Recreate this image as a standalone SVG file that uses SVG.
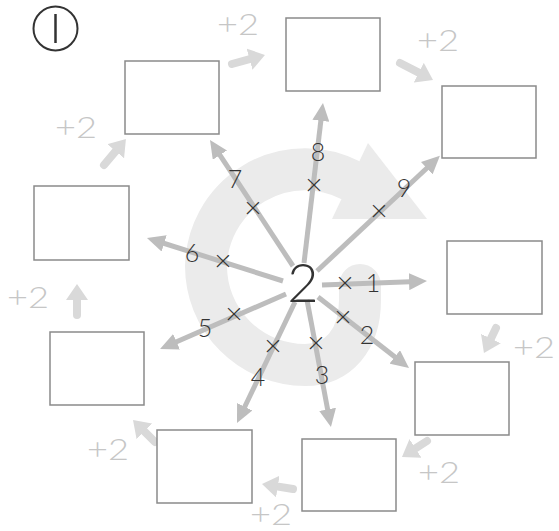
<svg xmlns="http://www.w3.org/2000/svg" width="559" height="531" viewBox="0 0 559 531">
<style>
.box{fill:#fff;stroke:#8a8a8a;stroke-width:1.5}
.spoke{stroke:#bdbdbd;stroke-width:5;fill:none;marker-end:url(#sh)}
.plus{stroke:#d9d9d9;stroke-width:8;stroke-linecap:round;fill:none;marker-end:url(#ph)}
.pl{font-family:Lato,"Liberation Sans",sans-serif;font-weight:300;font-size:30px;fill:#c6c6c6}
.lb{font-family:Lato,"Liberation Sans",sans-serif;font-weight:300;font-size:25px;fill:#333;text-anchor:middle}
.x{font-family:Lato,"Liberation Sans",sans-serif;font-weight:300;font-size:30px;fill:#333;text-anchor:middle}
</style>
<defs>
<marker id="sh" markerUnits="userSpaceOnUse" markerWidth="18" markerHeight="17" refX="8" refY="8.5" orient="auto"><path d="M0,0 L18,8.5 L0,17 z" fill="#bdbdbd"/></marker>
<marker id="ph" markerUnits="userSpaceOnUse" markerWidth="16" markerHeight="22" refX="6" refY="11" orient="auto"><path d="M0,0 L16,11 L0,22 z" fill="#d9d9d9"/></marker>
</defs>
<g id="cycle">
<path d="M360 285 L360 300 C360 340 338 365 305 365 A99 99 0 0 1 206 266 A99 99 0 0 1 350 180" fill="none" stroke="#ebebeb" stroke-width="42" stroke-linecap="round"/>
<polygon points="368,143 427,219 332,219" fill="#ebebeb"/>
</g>
<g id="title"><circle cx="55.5" cy="28.5" r="22" fill="none" stroke="#333" stroke-width="2"/><line x1="55.5" y1="14" x2="55.5" y2="43" stroke="#333" stroke-width="2.5"/></g>
<g id="connectors">
<line class="spoke" x1="322" y1="285" x2="417" y2="281.4"/>
<line class="spoke" x1="318" y1="297" x2="401.1" y2="361.8"/>
<line class="spoke" x1="307" y1="300" x2="329.1" y2="417.2"/>
<line class="spoke" x1="295" y1="302" x2="241.3" y2="414"/>
<line class="spoke" x1="286" y1="294" x2="169.2" y2="345"/>
<line class="spoke" x1="283" y1="281" x2="156.5" y2="241"/>
<line class="spoke" x1="293" y1="266" x2="215.5" y2="148.4"/>
<line class="spoke" x1="304" y1="263" x2="321.8" y2="112.9"/>
<line class="spoke" x1="317" y1="271" x2="432.6" y2="162.7"/>
<line class="plus" x1="232" y1="64" x2="255.3" y2="57.6"/>
<line class="plus" x1="400" y1="63" x2="424.1" y2="75.4"/>
<line class="plus" x1="496" y1="328" x2="488.3" y2="344"/>
<line class="plus" x1="427" y1="441" x2="410.4" y2="451.6"/>
<line class="plus" x1="293" y1="489" x2="271.9" y2="485.6"/>
<line class="plus" x1="155" y1="442" x2="140.1" y2="427.1"/>
<line class="plus" x1="77" y1="315" x2="77" y2="294"/>
<line class="plus" x1="104" y1="165" x2="119.5" y2="146.6"/>
</g>
<g id="plus-labels">
<text class="pl" x="217" y="35" textLength="42" lengthAdjust="spacingAndGlyphs">+2</text>
<text class="pl" x="417" y="51" textLength="42" lengthAdjust="spacingAndGlyphs">+2</text>
<text class="pl" x="513" y="358" textLength="42" lengthAdjust="spacingAndGlyphs">+2</text>
<text class="pl" x="418" y="483" textLength="42" lengthAdjust="spacingAndGlyphs">+2</text>
<text class="pl" x="250" y="525" textLength="42" lengthAdjust="spacingAndGlyphs">+2</text>
<text class="pl" x="87" y="460" textLength="42" lengthAdjust="spacingAndGlyphs">+2</text>
<text class="pl" x="7" y="308" textLength="42" lengthAdjust="spacingAndGlyphs">+2</text>
<text class="pl" x="55" y="138" textLength="42" lengthAdjust="spacingAndGlyphs">+2</text>
</g>
<g id="marks">
<text class="x" x="345" y="293">×</text>
<text class="x" x="343" y="327">×</text>
<text class="x" x="316" y="353">×</text>
<text class="x" x="273" y="356">×</text>
<text class="x" x="234" y="324">×</text>
<text class="x" x="223" y="271">×</text>
<text class="x" x="253" y="218">×</text>
<text class="x" x="314" y="195">×</text>
<text class="x" x="379" y="221">×</text>
</g>
<g id="step-labels">
<text class="lb" x="373" y="292">1</text>
<text class="lb" x="367" y="344">2</text>
<text class="lb" x="322" y="384">3</text>
<text class="lb" x="258" y="386">4</text>
<text class="lb" x="205" y="337">5</text>
<text class="lb" x="192" y="262">6</text>
<text class="lb" x="235" y="188">7</text>
<text class="lb" x="318" y="161">8</text>
<text class="lb" x="404" y="197">9</text>
</g>
<g id="center"><text x="303" y="302" font-family="Lato,'Liberation Sans',sans-serif" font-weight="300" font-size="54" fill="#333" text-anchor="middle">2</text></g>
<g id="box1"><rect class="box" x="447" y="241" width="95" height="73"/></g>
<g id="box2"><rect class="box" x="415" y="362" width="94" height="73"/></g>
<g id="box3"><rect class="box" x="302" y="439" width="94" height="72"/></g>
<g id="box4"><rect class="box" x="157" y="430" width="95" height="73"/></g>
<g id="box5"><rect class="box" x="50" y="332" width="94" height="73"/></g>
<g id="box6"><rect class="box" x="34" y="186" width="95" height="74"/></g>
<g id="box7"><rect class="box" x="125" y="61" width="94" height="73"/></g>
<g id="box8"><rect class="box" x="286" y="18" width="94" height="73"/></g>
<g id="box9"><rect class="box" x="442" y="86" width="94" height="72"/></g>
</svg>
